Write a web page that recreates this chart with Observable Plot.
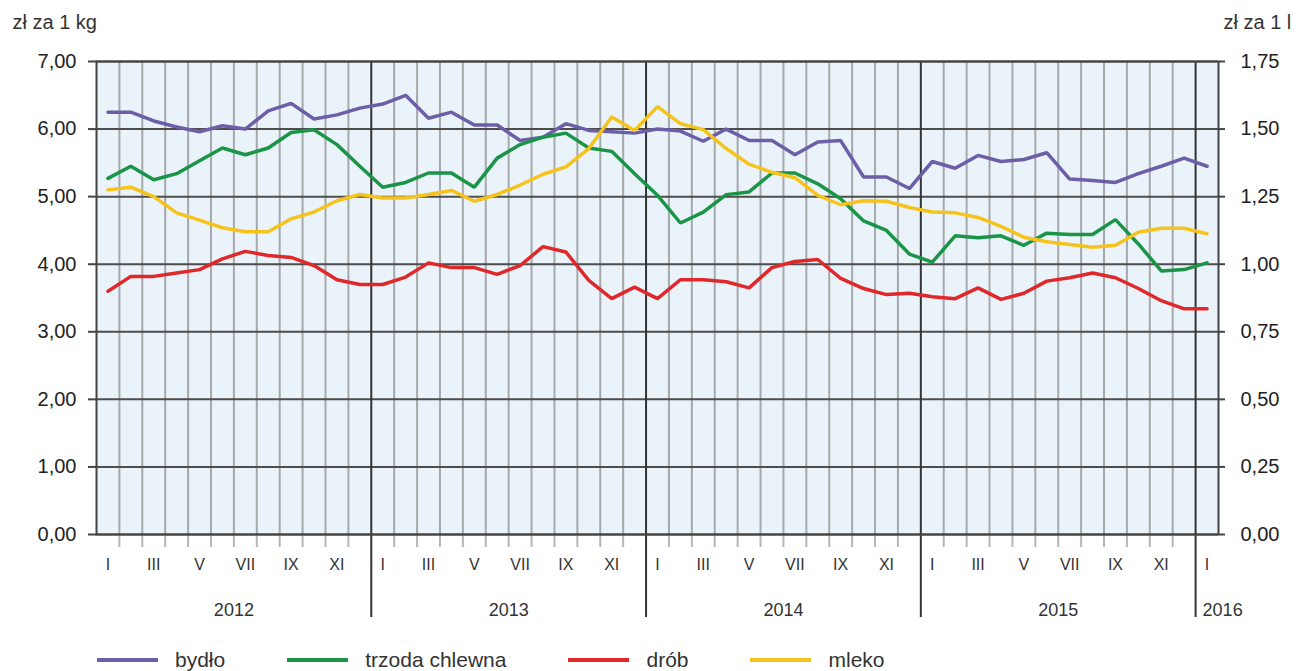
<!DOCTYPE html>
<html>
<head>
<meta charset="utf-8">
<script src="https://cdn.jsdelivr.net/npm/d3@7"></script>
<script src="https://cdn.jsdelivr.net/npm/@observablehq/plot@0.6"></script>
<style>
  html, body { margin: 0; padding: 0; background: #fff; }
  body { font-family: "Liberation Sans", Arial, sans-serif; color: #333; width: 1298px; overflow: hidden; }
  #chart svg { display: block; }
  #legend { display: flex; align-items: center; height: 31px; padding-top: 8px; padding-left: 97px; box-sizing: border-box; font-size: 21px; }
  #legend .item { display: flex; align-items: center; margin-right: 62px; }
  #legend .sw { width: 61px; height: 4px; margin-right: 17px; }
</style>
</head>
<body>
<div id="chart"></div>
<div id="legend"></div>
<script>
// ---- data ----
const monthLabels = ["I","II","III","IV","V","VI","VII","VIII","IX","X","XI","XII",
                     "I","II","III","IV","V","VI","VII","VIII","IX","X","XI","XII",
                     "I","II","III","IV","V","VI","VII","VIII","IX","X","XI","XII",
                     "I","II","III","IV","V","VI","VII","VIII","IX","X","XI","XII",
                     "I"];
const years = [2012, 2013, 2014, 2015, 2016];

// zł za 1 kg
const bydlo = [6.25,6.25,6.12,6.03,5.96,6.05,6.00,6.27,6.38,6.15,6.21,6.31,
               6.37,6.50,6.16,6.25,6.06,6.06,5.83,5.88,6.08,5.98,5.96,5.94,
               6.00,5.97,5.82,6.00,5.83,5.83,5.62,5.81,5.83,5.29,5.29,5.12,
               5.52,5.42,5.61,5.52,5.55,5.65,5.26,5.24,5.21,5.34,5.45,5.57,
               5.45];
const trzoda = [5.27,5.45,5.25,5.34,5.53,5.72,5.62,5.72,5.95,5.99,5.77,5.45,
                5.14,5.21,5.35,5.35,5.14,5.57,5.77,5.88,5.94,5.72,5.67,5.34,
                5.02,4.61,4.77,5.03,5.07,5.35,5.35,5.19,4.97,4.64,4.50,4.15,
                4.03,4.42,4.39,4.42,4.28,4.46,4.44,4.44,4.66,4.30,3.90,3.92,
                4.02];
const drob = [3.60,3.82,3.82,3.87,3.92,4.08,4.19,4.13,4.10,3.98,3.77,3.70,
              3.70,3.81,4.02,3.95,3.95,3.85,3.98,4.26,4.18,3.76,3.49,3.66,
              3.49,3.77,3.77,3.74,3.65,3.95,4.04,4.07,3.79,3.64,3.55,3.57,
              3.52,3.49,3.65,3.48,3.57,3.75,3.80,3.87,3.80,3.64,3.46,3.34,
              3.34];
// zł za 1 l (right axis)
const mleko = [1.275,1.285,1.250,1.190,1.163,1.135,1.120,1.120,1.168,1.193,1.235,1.258,
               1.245,1.245,1.258,1.273,1.233,1.258,1.293,1.333,1.360,1.428,1.545,1.495,
               1.583,1.520,1.498,1.428,1.370,1.340,1.320,1.255,1.220,1.235,1.233,1.210,
               1.193,1.190,1.173,1.140,1.100,1.083,1.073,1.063,1.070,1.118,1.133,1.133,
               1.113];

const leftTicks = [0, 1, 2, 3, 4, 5, 6, 7];
const rightTicks = [0, 0.25, 0.5, 0.75, 1, 1.25, 1.5, 1.75];
const seriesNames = ["bydło", "trzoda chlewna", "drób", "mleko"];
const seriesColors = ["#6c5fa7", "#1a9447", "#e0282a", "#f6c31c"];
const unitLeft = "zł za 1 kg";
const unitRight = "zł za 1 l";

// ---- build ----
const ratio = d3.max(leftTicks) / d3.max(rightTicks);
const seriesValues = [bydlo, trzoda, drob, mleko.map(v => v * ratio)];
const rows = [];
seriesNames.forEach((s, k) => seriesValues[k].forEach((v, i) => rows.push({s, i, v})));

const n = monthLabels.length;
const yearBounds = years.slice(1).map(y => (y - years[0]) * 12 - 0.5);
const monthBounds = d3.range(1, n).map(i => i - 0.5).filter(b => !yearBounds.includes(b));
const labelMonths = d3.range(0, n, 2);
const yearRows = years.map(y => {
  const start = (y - years[0]) * 12;
  const full = start + 12 <= n;
  return {y: String(y), x: full ? start + 5.5 : start - 0.5, full};
});
const fmt = v => v.toFixed(2).replace(".", ",");
const font = "Liberation Sans, Arial, sans-serif";

const chart = Plot.plot({
  width: 1298,
  height: 640,
  marginLeft: 96,
  marginRight: 80,
  marginTop: 61,
  marginBottom: 106,
  style: {fontFamily: font, color: "#333", background: "#fff"},
  x: {domain: [-0.5, n - 0.5], axis: null},
  y: {domain: [0, 7], axis: null},
  color: {domain: seriesNames, range: seriesColors},
  marks: [
    Plot.frame({fill: "#eaf3f9", stroke: "none"}),
    Plot.ruleX(monthBounds, {x: d => d, stroke: "#a6a9ab", strokeWidth: 2}),
    Plot.axisX(monthBounds, {anchor: "bottom", label: null, tickSize: 13, tickFormat: () => "", stroke: "#b4b6b8", strokeWidth: 2}),
    Plot.ruleY(leftTicks, {y: d => d, stroke: "#4d4d4d", strokeWidth: 2}),
    Plot.ruleX(yearBounds, {x: d => d, stroke: "#333", strokeWidth: 2}),
    Plot.axisX(yearBounds, {anchor: "bottom", label: null, tickSize: 83, tickFormat: () => "", stroke: "#333", strokeWidth: 2}),
    Plot.frame({stroke: "#444", strokeWidth: 2}),
    Plot.axisY(leftTicks, {anchor: "left", label: null, tickSize: 8, tickPadding: 12, tickFormat: fmt, fontSize: 20, stroke: "#444", strokeWidth: 2, fill: "#222"}),
    Plot.axisY(rightTicks.map(v => v * ratio), {anchor: "right", label: null, tickSize: 6, tickPadding: 16, tickFormat: d => fmt(d / ratio), fontSize: 20, stroke: "#444", strokeWidth: 2, fill: "#222"}),
    Plot.text(labelMonths, {x: d => d, text: d => monthLabels[d], frameAnchor: "bottom", dy: 30, lineAnchor: "middle", fontSize: 16, fill: "#333"}),
    Plot.text(yearRows.filter(d => d.full), {x: "x", text: "y", textAnchor: "middle", frameAnchor: "bottom", dy: 76, lineAnchor: "middle", fontSize: 18, fill: "#333"}),
    Plot.text(yearRows.filter(d => !d.full), {x: "x", text: "y", textAnchor: "start", frameAnchor: "bottom", dx: 7, dy: 76, lineAnchor: "middle", fontSize: 18, fill: "#333"}),
    Plot.line(rows, {x: "i", y: "v", z: "s", stroke: "s", strokeWidth: 3.5, strokeLinejoin: "miter", curve: "linear"}),
    Plot.text([unitLeft], {text: d => d, frameAnchor: "top-left", textAnchor: "start", dx: -84, dy: -39, lineAnchor: "middle", fontSize: 20, fill: "#333"}),
    Plot.text([unitRight], {text: d => d, frameAnchor: "top-right", textAnchor: "start", dx: 5, dy: -39, lineAnchor: "middle", fontSize: 20, fill: "#333"})
  ]
});
document.getElementById("chart").appendChild(chart);

const legend = document.getElementById("legend");
seriesNames.forEach((s, k) => {
  const item = document.createElement("div");
  item.className = "item";
  const sw = document.createElement("span");
  sw.className = "sw";
  sw.style.background = seriesColors[k];
  const t = document.createElement("span");
  t.textContent = s;
  item.appendChild(sw);
  item.appendChild(t);
  legend.appendChild(item);
});
</script>
</body>
</html>
